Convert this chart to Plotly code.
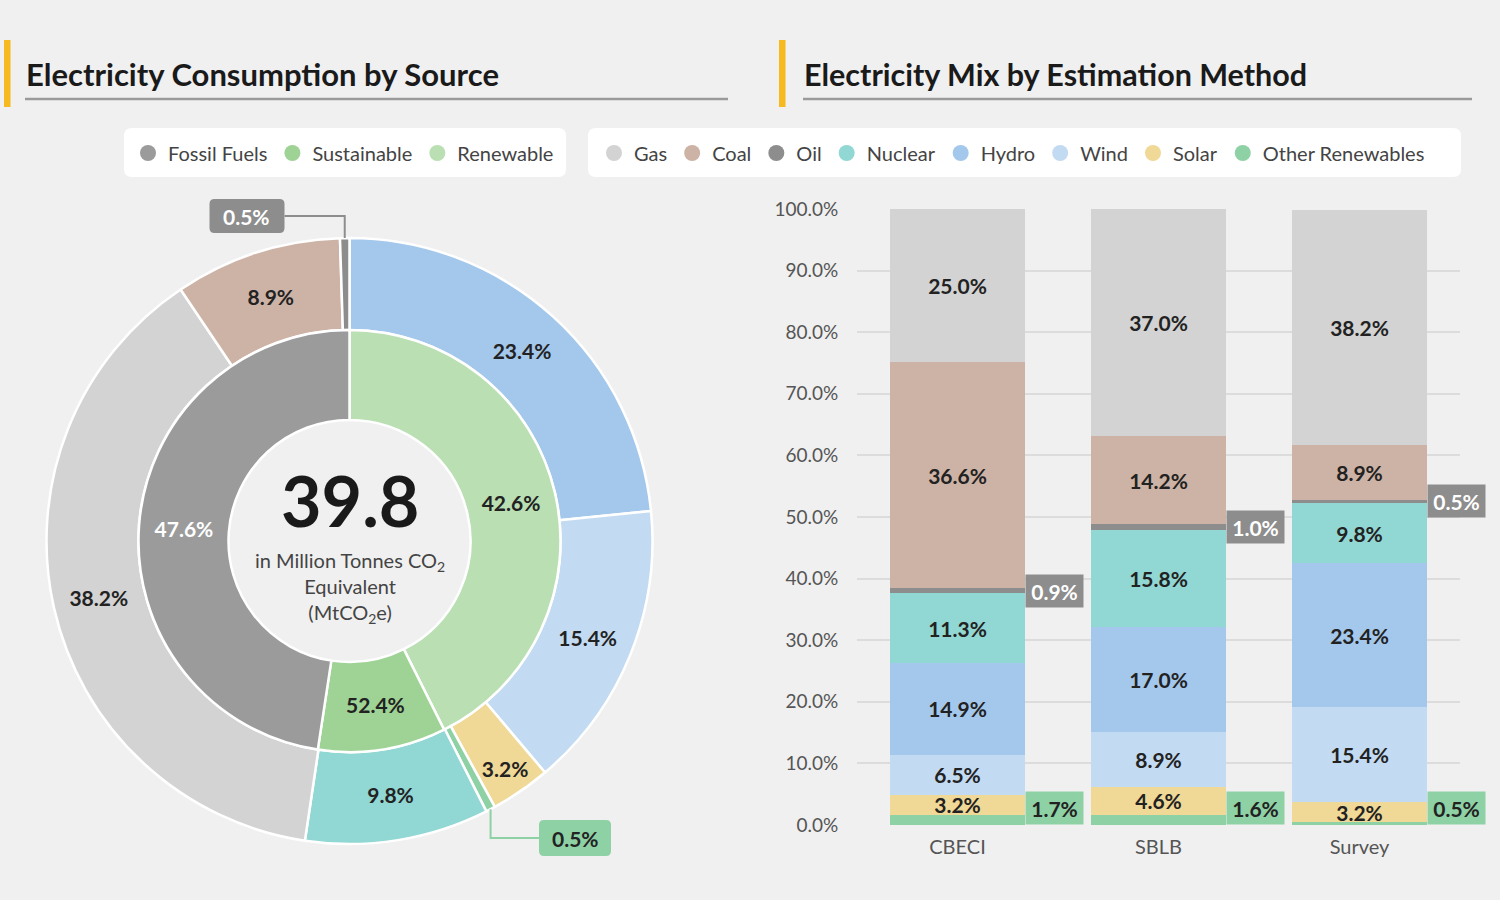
import math
import plotly.graph_objects as go

# ---- data ----
inner_labels = ["Renewable", "Sustainable", "Fossil Fuels"]
inner_values = [42.6, 9.8, 47.6]
inner_text = ["42.6%", "52.4%", "47.6%"]

outer_labels = ["Hydro", "Wind", "Solar", "Other Renewables", "Nuclear", "Gas", "Coal", "Oil"]
outer_values = [23.4, 15.4, 3.2, 0.5, 9.8, 38.2, 8.9, 0.5]

total_emissions = "39.8"

methods = ["CBECI", "SBLB", "Survey"]
other_renew = [1.7, 1.6, 0.5]
solar = [3.2, 4.6, 3.2]
wind = [6.5, 8.9, 15.4]
hydro = [14.9, 17.0, 23.4]
nuclear = [11.3, 15.8, 9.8]
oil = [0.9, 1.0, 0.5]
coal = [36.6, 14.2, 8.9]
gas = [25.0, 37.0, 38.2]

COLORS = {
    "Fossil Fuels": "#9b9b9c",
    "Sustainable": "#9fd395",
    "Renewable": "#b9dfb3",
    "Gas": "#d2d3d2",
    "Coal": "#cdb3a5",
    "Oil": "#8d8d8d",
    "Nuclear": "#91d7d3",
    "Hydro": "#a4c8ec",
    "Wind": "#c3dbf2",
    "Solar": "#f0d896",
    "Other Renewables": "#8ed1a5",
}

W, H = 1500, 900
BG = "#f0f0f0"
FONT = "Lato, 'Open Sans', sans-serif"
DARK = "#222222"
LBL = 21  # value label size


def px(x, y):
    # pixel (from top-left) -> paper coords
    return x / W, 1 - y / H


# donut geometry (pixels)
CX, CY = 349.5, 541
R_OUT, R_MID, R_HOLE = 303, 211, 121


def dom(r):
    return dict(x=[(CX - r) / W, (CX + r) / W], y=[(H - CY - r) / H, (H - CY + r) / H])


fig = go.Figure()

fig.add_trace(go.Pie(
    labels=outer_labels, values=outer_values, sort=False, direction="clockwise",
    domain=dom(R_OUT), hole=R_MID / R_OUT,
    marker=dict(colors=[COLORS[l] for l in outer_labels], line=dict(color="white", width=2.5)),
    text=[f"{v:.1f}%" if v >= 1 else "" for v in outer_values],
    textinfo="text", textposition="inside", insidetextorientation="horizontal",
    textfont=dict(family=FONT, size=LBL, color=DARK, weight="bold"),
    showlegend=False, hoverinfo="label+value",
))

fig.add_trace(go.Pie(
    labels=inner_labels, values=inner_values, sort=False, direction="clockwise",
    domain=dom(R_MID), hole=R_HOLE / R_MID,
    marker=dict(colors=[COLORS[l] for l in inner_labels], line=dict(color="white", width=2.5)),
    text=inner_text, textinfo="text", textposition="inside", insidetextorientation="horizontal",
    textfont=dict(family=FONT, size=LBL, color=[DARK, DARK, "white"], weight="bold"),
    showlegend=False, hoverinfo="label+value",
))

# stacked bars, bottom to top
stack = [
    ("Other Renewables", other_renew),
    ("Solar", solar),
    ("Wind", wind),
    ("Hydro", hydro),
    ("Nuclear", nuclear),
    ("Oil", oil),
    ("Coal", coal),
    ("Gas", gas),
]
boxed = {"Other Renewables", "Oil"}
for name, vals in stack:
    fig.add_trace(go.Bar(
        x=methods, y=vals, name=name, marker=dict(color=COLORS[name], line=dict(width=0)),
        texttemplate="%{y:.1f}%", textposition="none" if name in boxed else "inside",
        insidetextanchor="middle",
        textfont=dict(family=FONT, size=LBL, color=DARK, weight="bold"),
        showlegend=False, xaxis="x", yaxis="y",
    ))

# legend entries (circle markers)
for name in ["Fossil Fuels", "Sustainable", "Renewable"]:
    fig.add_trace(go.Scatter(x=[None], y=[None], mode="markers", name=name,
                             marker=dict(color=COLORS[name], size=17, symbol="circle"),
                             legend="legend"))
for name in ["Gas", "Coal", "Oil", "Nuclear", "Hydro", "Wind", "Solar", "Other Renewables"]:
    fig.add_trace(go.Scatter(x=[None], y=[None], mode="markers", name=name,
                             marker=dict(color=COLORS[name], size=17, symbol="circle"),
                             legend="legend2"))

# bar plot area (pixels)
PX0, PX1 = 857, 1460
PY0, PY1 = 825, 209
BARGAP = 0.333
half_bar = (PX1 - PX0) / len(methods) * (1 - BARGAP) / 2

shapes = []
annotations = []


def rrect(x0, y0, x1, y1, r, color, layer="below"):
    a0, b0 = px(x0, y0)
    a1, b1 = px(x1, y1)
    rx, ry = r / W, r / H
    path = (f"M{a0 + rx},{b0} L{a1 - rx},{b0} Q{a1},{b0} {a1},{b0 - ry} "
            f"L{a1},{b1 + ry} Q{a1},{b1} {a1 - rx},{b1} L{a0 + rx},{b1} "
            f"Q{a0},{b1} {a0},{b1 + ry} L{a0},{b0 - ry} Q{a0},{b0} {a0 + rx},{b0} Z")
    return dict(type="path", xref="paper", yref="paper", path=path,
                fillcolor=color, line=dict(width=0), layer=layer)


# header decorations
for x_acc, x0, x1, ttl, fs in [(4, 25, 728, "Electricity Consumption by Source", 31),
                               (779, 803, 1472, "Electricity Mix by Estimation Method", 30.5)]:
    a0, b0 = px(x_acc, 40)
    a1, b1 = px(x_acc + 6.5, 107)
    shapes.append(dict(type="rect", xref="paper", yref="paper", x0=a0, x1=a1, y0=b1, y1=b0,
                       fillcolor="#f6b91f", line=dict(width=0)))
    l0, ly = px(x0, 99)
    l1, _ = px(x1, 99)
    shapes.append(dict(type="line", xref="paper", yref="paper", x0=l0, x1=l1, y0=ly, y1=ly,
                       line=dict(color="#9a9a9a", width=2.5)))
    tx, ty = px(x0 - 1, 74)
    annotations.append(dict(text=ttl, xref="paper", yref="paper", x=tx, y=ty,
                            xanchor="left", yanchor="middle", showarrow=False,
                            font=dict(family=FONT, size=fs, color="#1a1a1a", weight="bold")))

# legend backgrounds
shapes.append(rrect(124, 128, 566, 177, 8, "white"))
shapes.append(rrect(588, 128, 1461, 177, 8, "white"))

# center text
cx, cy = px(CX, 500)
annotations.append(dict(text=total_emissions, xref="paper", yref="paper", x=cx, y=cy,
                        xanchor="center", yanchor="middle", showarrow=False,
                        font=dict(family=FONT, size=70, color="#1a1a1a", weight="bold")))
cx, cy = px(CX, 587)
annotations.append(dict(text="in Million Tonnes CO<sub>2</sub><br>Equivalent<br>(MtCO<sub>2</sub>e)",
                        xref="paper", yref="paper", x=cx, y=cy, showarrow=False,
                        xanchor="center", yanchor="middle",
                        font=dict(family=FONT, size=20, color="#444444")))


def slice_point(values, idx, r):
    before = sum(values[:idx]) + values[idx] / 2
    th = 2 * math.pi * before / sum(values)
    return CX + r * math.sin(th), CY - r * math.cos(th)


# donut callouts for tiny slices
callouts = {
    "Oil": dict(box=(247, 216), size=(75, 34), fc="white", elbow="h_first"),
    "Other Renewables": dict(box=(575, 838), size=(72, 36), fc=DARK, elbow="v_first"),
}
for name, c in callouts.items():
    i = outer_labels.index(name)
    sx, sy = slice_point(outer_values, i, R_OUT)
    bx, by = c["box"]
    bw, bh = c["size"]
    col = COLORS[name]
    if c["elbow"] == "h_first":
        pts = [(bx + bw / 2, by), (sx, by), (sx, sy)]
    else:
        pts = [(sx, sy), (sx, by), (bx - bw / 2, by)]
    path = "M" + " L".join(f"{px(x, y)[0]},{px(x, y)[1]}" for x, y in pts)
    shapes.append(dict(type="path", xref="paper", yref="paper", path=path,
                       line=dict(color=col, width=2)))
    shapes.append(rrect(bx - bw / 2, by - bh / 2, bx + bw / 2, by + bh / 2, 5, col, layer="above"))
    ax, ay = px(bx, by)
    annotations.append(dict(text=f"{outer_values[i]:.1f}%", xref="paper", yref="paper", x=ax, y=ay,
                            xanchor="center", yanchor="middle", showarrow=False,
                            font=dict(family=FONT, size=LBL, color=c["fc"], weight="bold")))

# bar boxes for tiny segments
for j, m in enumerate(methods):
    annotations.append(dict(text=f"{other_renew[j]:.1f}%", x=m, y=0, xref="x", yref="y",
                            xanchor="left", yanchor="bottom", xshift=half_bar, showarrow=False,
                            width=57, height=32, borderpad=0, bgcolor=COLORS["Other Renewables"],
                            font=dict(family=FONT, size=LBL, color=DARK, weight="bold")))
    base = other_renew[j] + solar[j] + wind[j] + hydro[j] + nuclear[j]
    annotations.append(dict(text=f"{oil[j]:.1f}%", x=m, y=base + oil[j] / 2, xref="x", yref="y",
                            xanchor="left", yanchor="middle", xshift=half_bar, showarrow=False,
                            width=57, height=32, borderpad=0, bgcolor=COLORS["Oil"],
                            font=dict(family=FONT, size=LBL, color="white", weight="bold")))

lx, ly = px(128, 153)
rx, ry = px(594, 153)

fig.update_layout(
    width=W, height=H, margin=dict(l=0, r=0, t=0, b=0, autoexpand=False),
    paper_bgcolor=BG, plot_bgcolor=BG,
    font=dict(family=FONT, color="#444444"),
    barmode="stack", bargap=BARGAP,
    uniformtext=dict(minsize=LBL, mode="show"),
    xaxis=dict(domain=[PX0 / W, PX1 / W], range=[-0.5, 2.5], showgrid=False, showline=False,
               zeroline=False, tickfont=dict(size=20, color="#555555"),
               ticks="outside", ticklen=4, tickcolor="rgba(0,0,0,0)", automargin=False),
    yaxis=dict(domain=[(H - PY0) / H, (H - PY1) / H], range=[0, 100], dtick=10,
               tickformat=".1f", ticksuffix="%", showgrid=True, gridcolor="#dcdcdc", gridwidth=1.5,
               zeroline=False, tickfont=dict(size=19, color="#555555"),
               ticks="outside", ticklen=14, tickcolor="rgba(0,0,0,0)", automargin=False),
    legend=dict(orientation="h", x=lx, y=ly, xanchor="left", yanchor="middle", traceorder="normal",
                bgcolor="rgba(0,0,0,0)", font=dict(family=FONT, size=20, color="#444444"),
                itemsizing="trace", itemwidth=30),
    legend2=dict(orientation="h", x=rx, y=ry, xanchor="left", yanchor="middle", traceorder="normal",
                 bgcolor="rgba(0,0,0,0)", font=dict(family=FONT, size=20, color="#444444"),
                 itemsizing="trace", itemwidth=30),
    shapes=shapes, annotations=annotations,
)

fig.write_html("out.html", config={"displayModeBar": False},
               post_script="document.body.style.margin='0';")
